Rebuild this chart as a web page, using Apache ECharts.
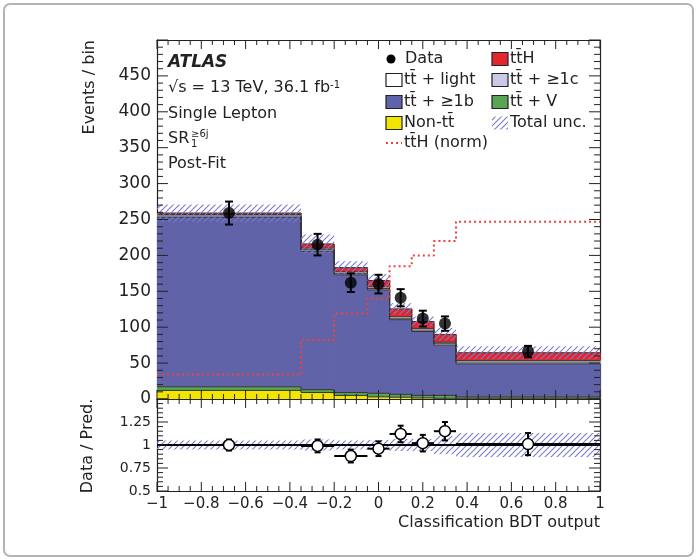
<!DOCTYPE html>
<html>
<head>
<meta charset="utf-8">
<script src="https://cdn.jsdelivr.net/npm/echarts@6/dist/echarts.min.js"></script>
<style>html,body{margin:0;padding:0;background:#fff}#c{width:697px;height:560px}</style>
</head>
<body>
<div id="c"></div>
<script>
// ---- data ----
const edges   = [-1, -0.35, -0.2, -0.05, 0.05, 0.15, 0.25, 0.35, 1];
const nonTT   = [12, 9, 5, 3, 2.5, 1.5, 1, 1];
const ttV     = [5, 4, 4, 5, 4, 3.5, 4, 2];
const ttb     = [236, 193, 164, 144, 104, 89, 70, 46];
const ttc     = [2, 2, 2, 2, 2, 2, 2, 2.5];
const ttLight = [2, 2, 2, 2, 2, 2, 2, 2];
const ttH     = [2, 6, 6, 9, 11, 10, 11, 11];
const totUnc  = [12, 13, 9, 9, 8, 7, 9, 9];
const dataVals = [259, 215, 162, 160, 141, 112, 105, 66];
const dataErr  = [16, 15, 13, 13, 12, 11, 10, 8];
const ttHnorm  = [34, 82, 119, 140, 185, 200, 220, 247];
const ratioVals = [1.0, 0.99, 0.88, 0.96, 1.12, 1.02, 1.15, 1.01];
const ratioErr  = [0.06, 0.07, 0.07, 0.08, 0.09, 0.09, 0.1, 0.12];
const ratioUnc  = [0.05, 0.06, 0.05, 0.055, 0.065, 0.065, 0.10, 0.13];
const mainYTicks = [0, 500, 50, 5];     // min, max, major step, minor divisions
const ratioYTicks = [0.5, 1.5, 0.25, 5];
const xTicks = [-1, 1, 0.2, 4];

const FONT = 'DejaVu Sans';
const comps = [
  {vals: nonTT,   color: '#f2e600'},
  {vals: ttV,     color: '#5aa555'},
  {vals: ttb,     color: '#6063a8'},
  {vals: ttc,     color: '#cacae8'},
  {vals: ttLight, color: '#ffffff'},
  {vals: ttH,     color: '#e3262b'}
];

function hatchCanvas(color) {
  const c = document.createElement('canvas');
  c.width = 6; c.height = 6;
  const g = c.getContext('2d');
  g.strokeStyle = color; g.lineWidth = 1.1;
  g.beginPath();
  g.moveTo(0, 6); g.lineTo(6, 0);
  g.moveTo(-1, 1); g.lineTo(1, -1);
  g.moveTo(5, 7); g.lineTo(7, 5);
  g.stroke();
  return c;
}
const hatchFill = {type: 'pattern', image: hatchCanvas('#7a7acb'), repeat: 'repeat'};

const nb = edges.length - 1;
let base = new Array(nb).fill(0);
const series = [];
comps.forEach(function (cp) {
  const lo = base.slice();
  const hi = base.map((b, i) => b + cp.vals[i]);
  const items = hi.map((h, i) => [edges[i], edges[i + 1], lo[i], h, i < nb - 1 ? hi[i + 1] : h]);
  series.push({
    type: 'custom', xAxisIndex: 0, yAxisIndex: 0, z: 2, silent: true,
    data: items,
    renderItem: function (params, api) {
      const p0 = api.coord([api.value(0), api.value(3)]);
      const p1 = api.coord([api.value(1), api.value(2)]);
      return {type: 'rect', shape: {x: p0[0], y: p0[1], width: p1[0] - p0[0] + 0.7, height: p1[1] - p0[1]},
              style: {fill: cp.color}};
    }
  });
  series.push({
    type: 'custom', xAxisIndex: 0, yAxisIndex: 0, z: 3, silent: true,
    data: items,
    renderItem: function (params, api) {
      const a = api.coord([api.value(0), api.value(3)]);
      const b = api.coord([api.value(1), api.value(3)]);
      const n = api.coord([api.value(1), api.value(4)]);
      return {type: 'group', children: [
        {type: 'line', shape: {x1: a[0], y1: a[1], x2: b[0], y2: b[1]}, style: {stroke: '#333', lineWidth: 1}},
        {type: 'line', shape: {x1: b[0], y1: b[1], x2: n[0], y2: n[1]}, style: {stroke: '#333', lineWidth: 1}}
      ]};
    }
  });
  base = hi;
});
const total = base;

series.push({
  type: 'custom', xAxisIndex: 0, yAxisIndex: 0, z: 4, silent: true,
  data: total.map((t, i) => [edges[i], edges[i + 1], t - totUnc[i], t + totUnc[i]]),
  renderItem: function (params, api) {
    const p0 = api.coord([api.value(0), api.value(3)]);
    const p1 = api.coord([api.value(1), api.value(2)]);
    return {type: 'rect', shape: {x: p0[0], y: p0[1], width: p1[0] - p0[0], height: p1[1] - p0[1]}, style: {fill: hatchFill}};
  }
});

const normPts = [];
ttHnorm.forEach((v, i) => { normPts.push([edges[i], v]); normPts.push([edges[i + 1], v]); });
series.push({
  type: 'line', xAxisIndex: 0, yAxisIndex: 0, z: 5, silent: true, symbol: 'none',
  data: normPts,
  lineStyle: {color: '#f0403a', width: 2, type: [2, 3]}
});

const centers = edges.slice(0, -1).map((e, i) => (e + edges[i + 1]) / 2);

series.push({
  type: 'custom', xAxisIndex: 0, yAxisIndex: 0, z: 6, silent: true,
  data: dataVals.map((v, i) => [centers[i], v, dataErr[i]]),
  renderItem: function (params, api) {
    const x = api.value(0), y = api.value(1), e = api.value(2);
    const t = api.coord([x, y + e]), b = api.coord([x, y - e]);
    const s = {stroke: '#000', lineWidth: 2};
    return {type: 'group', children: [
      {type: 'line', shape: {x1: t[0], y1: t[1], x2: b[0], y2: b[1]}, style: s},
      {type: 'line', shape: {x1: t[0] - 4, y1: t[1], x2: t[0] + 4, y2: t[1]}, style: s},
      {type: 'line', shape: {x1: b[0] - 4, y1: b[1], x2: b[0] + 4, y2: b[1]}, style: s}
    ]};
  }
});
series.push({
  type: 'scatter', xAxisIndex: 0, yAxisIndex: 0, z: 7, silent: true,
  symbol: 'circle', symbolSize: 12,
  itemStyle: {color: '#000'},
  data: dataVals.map((v, i) => [centers[i], v])
});

series.push({
  type: 'custom', xAxisIndex: 2, yAxisIndex: 2, z: 2, silent: true,
  data: ratioUnc.map((u, i) => [edges[i], edges[i + 1], 1 - u, 1 + u]),
  renderItem: function (params, api) {
    const p0 = api.coord([api.value(0), api.value(3)]);
    const p1 = api.coord([api.value(1), api.value(2)]);
    return {type: 'rect', shape: {x: p0[0], y: p0[1], width: p1[0] - p0[0], height: p1[1] - p0[1]}, style: {fill: hatchFill}};
  }
});
series.push({
  type: 'line', xAxisIndex: 2, yAxisIndex: 2, z: 3, silent: true, symbol: 'none',
  data: [[edges[0], 1], [edges[nb], 1]],
  lineStyle: {color: '#000', width: 2}
});
series.push({
  type: 'custom', xAxisIndex: 2, yAxisIndex: 2, z: 4, silent: true,
  data: ratioVals.map((v, i) => [centers[i], v, ratioErr[i], edges[i], edges[i + 1]]),
  renderItem: function (params, api) {
    const x = api.value(0), y = api.value(1), e = api.value(2);
    const t = api.coord([x, y + e]), b = api.coord([x, y - e]);
    const l = api.coord([api.value(3), y]), r = api.coord([api.value(4), y]);
    const s = {stroke: '#000', lineWidth: 2};
    return {type: 'group', children: [
      {type: 'line', shape: {x1: t[0], y1: t[1], x2: b[0], y2: b[1]}, style: s},
      {type: 'line', shape: {x1: t[0] - 3, y1: t[1], x2: t[0] + 3, y2: t[1]}, style: s},
      {type: 'line', shape: {x1: b[0] - 3, y1: b[1], x2: b[0] + 3, y2: b[1]}, style: s},
      {type: 'line', shape: {x1: l[0], y1: l[1], x2: r[0], y2: r[1]}, style: s}
    ]};
  }
});
series.push({
  type: 'scatter', xAxisIndex: 2, yAxisIndex: 2, z: 5, silent: true,
  symbol: 'circle', symbolSize: 11,
  itemStyle: {color: '#ffffff', borderColor: '#000', borderWidth: 1.5, opacity: 1},
  data: ratioVals.map((v, i) => [centers[i], v])
});

// ---- inward ROOT-style ticks on all four sides of both frames (placed via the axes' scales) ----
function tickList(spec) {
  const out = [];
  const n = Math.round((spec[1] - spec[0]) / spec[2]);
  for (let i = 0; i <= n; i++) {
    for (let j = 0; j < spec[3]; j++) {
      if (i === n && j > 0) break;
      out.push([spec[0] + (i + j / spec[3]) * spec[2], j === 0 ? 1 : 0]);
    }
  }
  return out;
}
function tickSeries(xi, yi, xs, ys, lenMajX, lenMinX, lenMajY, lenMinY) {
  const s = {stroke: '#222', lineWidth: 1};
  series.push({
    type: 'custom', xAxisIndex: xi, yAxisIndex: yi, z: 9, silent: true, clip: false,
    data: tickList(xs).map(t => [t[0], ys[0], t[1]]),
    renderItem: function (params, api) {
      const v = api.value(0), maj = api.value(2);
      const L = maj ? lenMajX : lenMinX;
      const b = api.coord([v, ys[0]]), t = api.coord([v, ys[1]]);
      return {type: 'group', children: [
        {type: 'line', shape: {x1: b[0], y1: b[1], x2: b[0], y2: b[1] - L}, style: s},
        {type: 'line', shape: {x1: t[0], y1: t[1], x2: t[0], y2: t[1] + L}, style: s}
      ]};
    }
  });
  series.push({
    type: 'custom', xAxisIndex: xi, yAxisIndex: yi, z: 9, silent: true, clip: false,
    data: tickList(ys).map(t => [xs[0], t[0], t[1]]),
    renderItem: function (params, api) {
      const v = api.value(1), maj = api.value(2);
      const L = maj ? lenMajY : lenMinY;
      const l = api.coord([xs[0], v]), r = api.coord([xs[1], v]);
      return {type: 'group', children: [
        {type: 'line', shape: {x1: l[0], y1: l[1], x2: l[0] + L, y2: l[1]}, style: s},
        {type: 'line', shape: {x1: r[0], y1: r[1], x2: r[0] - L, y2: r[1]}, style: s}
      ]};
    }
  });
}
tickSeries(0, 0, xTicks, mainYTicks, 9, 5, 11, 6);
tickSeries(2, 2, xTicks, ratioYTicks, 9, 5, 11, 6);

function xFmt(v) { const r = parseFloat(v.toFixed(2)); return r < 0 ? '\u2212' + Math.abs(r) : String(r); }
function xAx(grid, pos, labels) {
  return {type: 'value', gridIndex: grid, position: pos, min: xTicks[0], max: xTicks[1], interval: xTicks[2],
    axisLine: {show: true, onZero: false, lineStyle: {color: '#222', width: 1.2}}, splitLine: {show: false},
    axisTick: {show: false}, minorTick: {show: false},
    axisLabel: labels ? {show: true, formatter: xFmt, fontFamily: FONT, fontSize: 15, color: '#222', margin: 6} : {show: false}};
}
function yAx(grid, pos, t, labels, fs) {
  return {type: 'value', gridIndex: grid, position: pos, min: t[0], max: t[1], interval: t[2],
    axisLine: {show: true, onZero: false, lineStyle: {color: '#222', width: 1.2}}, splitLine: {show: false},
    axisTick: {show: false}, minorTick: {show: false},
    axisLabel: labels ? {show: true, showMaxLabel: false, fontFamily: FONT, fontSize: fs, color: '#222', margin: 6} : {show: false}};
}

const txt = (x, y, text, extra) => Object.assign({type: 'text', x: x, y: y,
  style: Object.assign({text: text, fontFamily: FONT, fontSize: 16, fill: '#222', textVerticalAlign: 'middle'}, extra || {})});
const box = (x, y, color) => ({type: 'rect', shape: {x: x, y: y - 6.5, width: 16, height: 13}, style: {fill: color, stroke: '#222', lineWidth: 1.2}});

const graphics = [
  {type: 'rect', shape: {x: 4, y: 4, width: 689, height: 552, r: 6}, style: {fill: null, stroke: '#b4b4b4', lineWidth: 2}},
  txt(168, 63, 'ATLAS', {fontWeight: 'bold', fontStyle: 'italic', fontSize: 17}),
  {type: 'text', x: 168, y: 88, style: {text: '\u221As = 13 TeV, 36.1 fb{sup|-1}', fontFamily: FONT, fontSize: 16, fill: '#222', textVerticalAlign: 'middle',
    rich: {sup: {fontFamily: FONT, fontSize: 10, verticalAlign: 'top', fill: '#222'}}}},
  txt(168, 114, 'Single Lepton'),
  txt(168, 139, 'SR'),
  txt(191, 134, '\u22656j', {fontSize: 10}),
  txt(191, 144, '1', {fontSize: 10}),
  txt(168, 164, 'Post-Fit'),
  {type: 'circle', shape: {cx: 391, cy: 59, r: 4.5}, style: {fill: '#000'}},
  txt(405, 59, 'Data'),
  box(492, 59, '#e3262b'), txt(510, 59, 'tt\u0304H'),
  box(386, 80, '#ffffff'), txt(404, 80, 'tt\u0304 + light'),
  box(492, 80, '#cacae8'), txt(510, 80, 'tt\u0304 + \u22651c'),
  box(386, 102, '#6063a8'), txt(404, 102, 'tt\u0304 + \u22651b'),
  box(492, 102, '#5aa555'), txt(510, 102, 'tt\u0304 + V'),
  box(386, 123, '#f2e600'), txt(404, 123, 'Non-tt\u0304'),
  {type: 'rect', shape: {x: 492, y: 116.5, width: 16, height: 13}, style: {fill: hatchFill}},
  txt(510, 123, 'Total unc.'),
  {type: 'line', shape: {x1: 386, y1: 143, x2: 402, y2: 143}, style: {stroke: '#f0403a', lineWidth: 2, lineDash: [2, 3]}},
  txt(404, 143, 'tt\u0304H (norm)'),
  {type: 'text', x: 90, y: 40, rotation: Math.PI / 2,
    style: {text: 'Events / bin', fontFamily: FONT, fontSize: 16, fill: '#222', textAlign: 'right', textVerticalAlign: 'middle'}},
  {type: 'text', x: 88, y: 446, rotation: Math.PI / 2,
    style: {text: 'Data / Pred.', fontFamily: FONT, fontSize: 16, fill: '#222', textAlign: 'center', textVerticalAlign: 'middle'}},
  {type: 'text', x: 600, y: 523,
    style: {text: 'Classification BDT output', fontFamily: FONT, fontSize: 16, fill: '#222', textAlign: 'right', textVerticalAlign: 'middle'}}
];

const chart = echarts.init(document.getElementById('c'), null, {renderer: 'canvas'});
chart.setOption({
  animation: false,
  backgroundColor: '#fff',
  grid: [
    {left: 157, top: 40, width: 443, height: 359},
    {left: 157, top: 399, width: 443, height: 92}
  ],
  xAxis: [xAx(0, 'bottom', false), xAx(0, 'top', false), xAx(1, 'bottom', true), xAx(1, 'top', false)],
  yAxis: [yAx(0, 'left', mainYTicks, true, 17), yAx(0, 'right', mainYTicks, false),
          yAx(1, 'left', ratioYTicks, true, 14), yAx(1, 'right', ratioYTicks, false)],
  series: series,
  graphic: graphics
});
</script>
</body>
</html>
